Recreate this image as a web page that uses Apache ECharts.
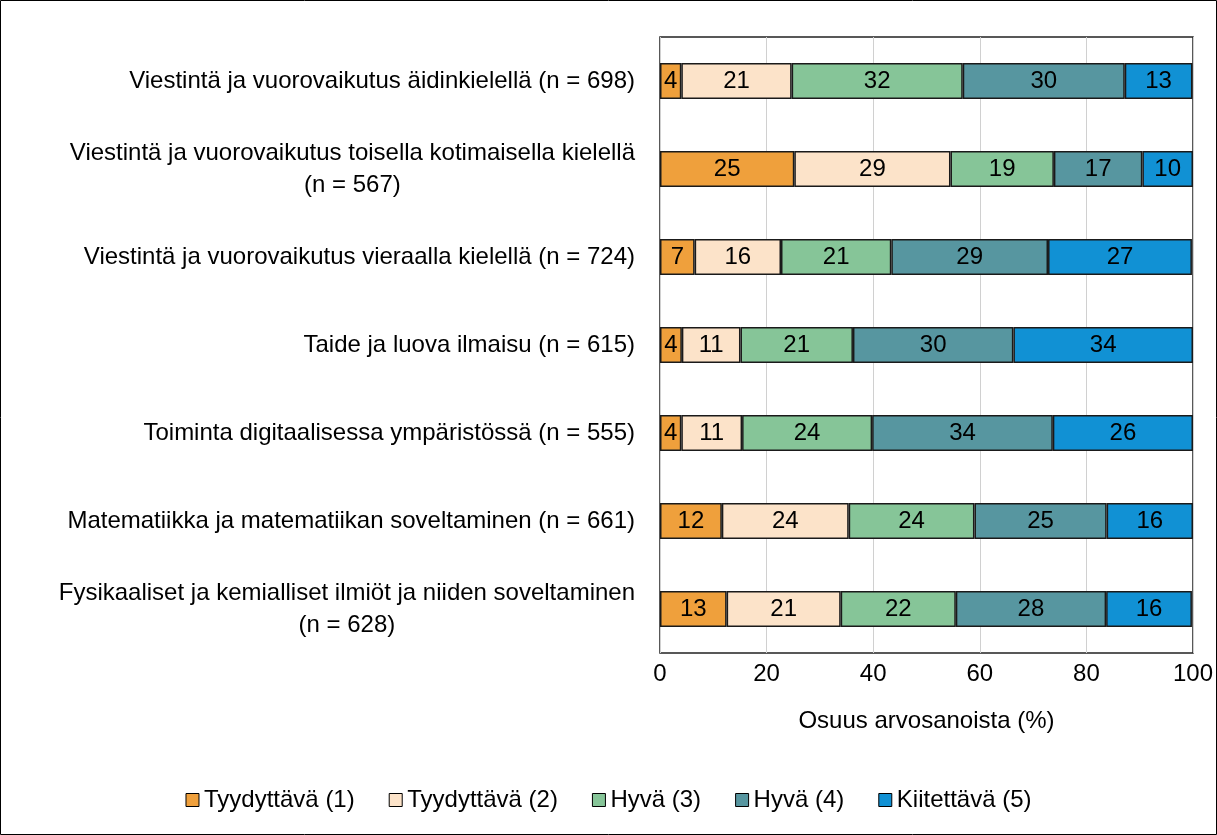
<!DOCTYPE html>
<html>
<head>
<meta charset="utf-8">
<script src="https://cdn.jsdelivr.net/npm/echarts@6/dist/echarts.min.js"></script>
<style>
    html, body { margin: 0; padding: 0; background: #fff; }
    #chart { width: 1217px; height: 835px; }
</style>
</head>
<body>
<div id="chart"></div>
<script>
// aihealueet (y-akseli ylhäältä alas)
var categories = [
    "Viestintä ja vuorovaikutus äidinkielellä (n = 698)",
    "Viestintä ja vuorovaikutus toisella kotimaisella kielellä\n(n = 567)",
    "Viestintä ja vuorovaikutus vieraalla kielellä (n = 724)",
    "Taide ja luova ilmaisu (n = 615)",
    "Toiminta digitaalisessa ympäristössä (n = 555)",
    "Matematiikka ja matematiikan soveltaminen (n = 661)",
    "Fysikaaliset ja kemialliset ilmiöt ja niiden soveltaminen\n(n = 628)"
];
var xTicks = [0, 20, 40, 60, 80, 100];

// osuudet (%) arvosanoittain
var tyydyttava1 = [4.0, 25.2, 6.5, 4.1, 4.0, 11.6, 12.5];
var tyydyttava2 = [20.7, 29.3, 16.2, 11.0, 11.4, 23.8, 21.4];
var hyva3 = [32.1, 19.4, 20.7, 21.1, 24.4, 23.6, 21.6];
var hyva4 = [30.4, 16.6, 29.4, 30.1, 33.9, 24.8, 28.2];
var kiitettava5 = [12.7, 9.5, 27.0, 33.7, 26.3, 16.2, 16.1];

var seriesNames = ["Tyydyttävä (1)", "Tyydyttävä (2)", "Hyvä (3)", "Hyvä (4)", "Kiitettävä (5)"];
var seriesData = [tyydyttava1, tyydyttava2, hyva3, hyva4, kiitettava5];
var colors = ["#EFA03C", "#FCE3C9", "#86C598", "#5796A0", "#1191D4"];

var font = "'Liberation Sans', Arial, sans-serif";
var fs = 24;

var chart = echarts.init(document.getElementById("chart"));

var series = [];
for (var i = 0; i < seriesNames.length; i++) {
    series.push({
        name: seriesNames[i],
        type: "bar",
        stack: "total",
        barWidth: 36,
        data: seriesData[i],
        itemStyle: {
            color: colors[i],
            borderColor: "#1a1a1a",
            borderWidth: 1.5
        },
        label: {
            show: true,
            position: "inside",
            color: "#000",
            fontFamily: font,
            fontSize: fs,
            formatter: function (p) {
                return Math.round(p.value);
            }
        }
    });
}

chart.setOption({
    animation: false,
    backgroundColor: "#fff",
    textStyle: { fontFamily: font },
    graphic: [{
        type: "rect",
        shape: { x: 0.5, y: 0.5, width: 1216, height: 834 },
        style: { fill: null, stroke: "#000", lineWidth: 1 },
        silent: true
    }],
    grid: {
        left: 660,
        right: 24,
        top: 37,
        bottom: 182,
        containLabel: false,
        outerBoundsMode: "none",
        show: true,
        borderColor: "#222",
        borderWidth: 1.5
    },
    legend: {
        bottom: 18,
        left: "center",
        itemWidth: 13,
        itemHeight: 13,
        itemGap: 34,
        icon: "rect",
        data: seriesNames.map(function (n) {
            return { name: n, itemStyle: { borderColor: "#000", borderWidth: 1 } };
        }),
        textStyle: { fontFamily: font, fontSize: fs, color: "#000" }
    },
    xAxis: {
        type: "value",
        min: xTicks[0],
        max: xTicks[xTicks.length - 1],
        interval: 20,
        name: "Osuus arvosanoista (%)",
        nameLocation: "middle",
        nameGap: 56,
        nameTextStyle: { fontFamily: font, fontSize: fs, color: "#000" },
        axisLine: { show: false },
        axisTick: { show: false },
        axisLabel: { margin: 9, fontFamily: font, fontSize: fs, color: "#000" },
        splitLine: { show: true, lineStyle: { color: "#d0d0d0", width: 1 } }
    },
    yAxis: {
        type: "category",
        inverse: true,
        data: categories,
        axisLine: { show: false },
        axisTick: { show: false },
        axisLabel: {
            margin: 25,
            fontFamily: font,
            fontSize: fs,
            lineHeight: 32,
            color: "#000",
            align: "right",
            // monirivisissä nimissä rivit keskitetään
            formatter: function (v) {
                return v.split("\n").map(function (s) {
                    return "{c|" + s + "}";
                }).join("\n");
            },
            rich: {
                c: { align: "center", fontFamily: font, fontSize: fs, lineHeight: 32, color: "#000" }
            }
        }
    },
    series: series
});
</script>
</body>
</html>
